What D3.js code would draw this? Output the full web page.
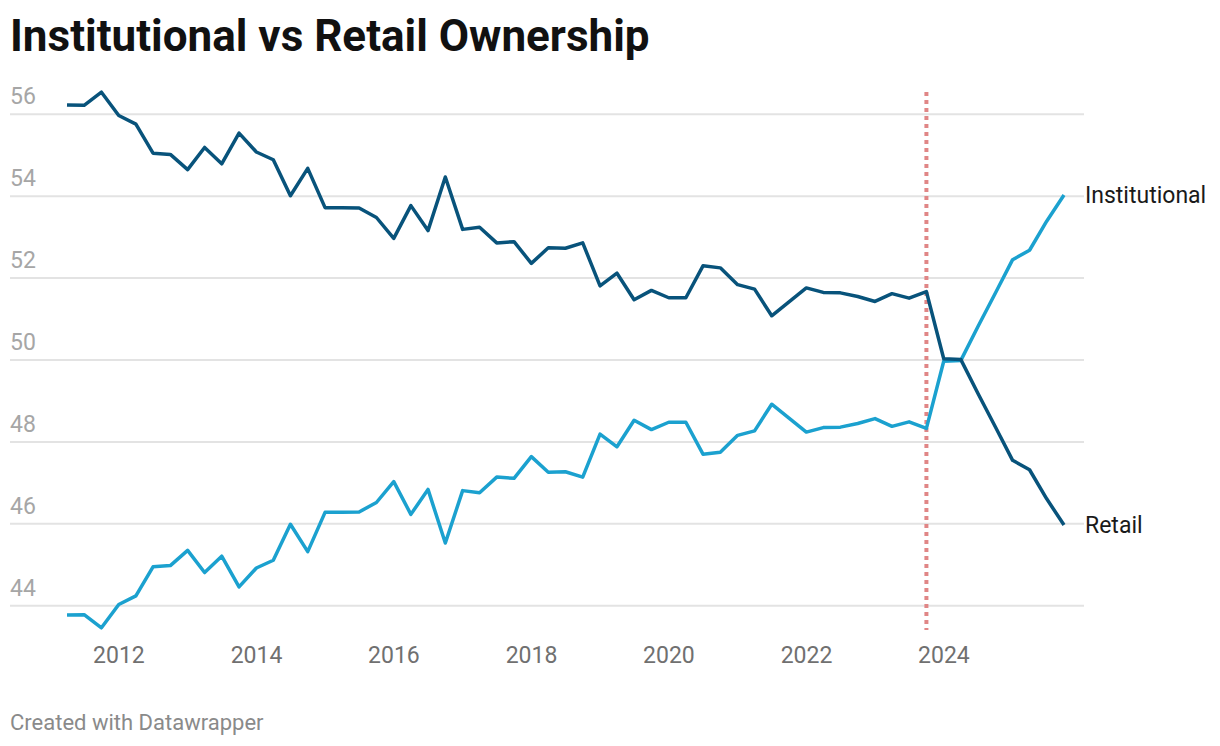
<!DOCTYPE html>
<html>
<head>
<meta charset="utf-8">
<script src="https://cdn.jsdelivr.net/npm/d3@7"></script>
<style>
  body { margin: 0; background: #fff; }
  svg { font-family: Roboto, "Noto Sans", sans-serif; display: block; }
</style>
</head>
<body>
<div id="chart"></div>
<script>
// quarter-end dates
const quarters = [
  "2011-03-31","2011-06-30","2011-09-30","2011-12-31",
  "2012-03-31","2012-06-30","2012-09-30","2012-12-31",
  "2013-03-31","2013-06-30","2013-09-30","2013-12-31",
  "2014-03-31","2014-06-30","2014-09-30","2014-12-31",
  "2015-03-31","2015-06-30","2015-09-30","2015-12-31",
  "2016-03-31","2016-06-30","2016-09-30","2016-12-31",
  "2017-03-31","2017-06-30","2017-09-30","2017-12-31",
  "2018-03-31","2018-06-30","2018-09-30","2018-12-31",
  "2019-03-31","2019-06-30","2019-09-30","2019-12-31",
  "2020-03-31","2020-06-30","2020-09-30","2020-12-31",
  "2021-03-31","2021-06-30","2021-09-30","2021-12-31",
  "2022-03-31","2022-06-30","2022-09-30","2022-12-31",
  "2023-03-31","2023-06-30","2023-09-30","2023-12-31",
  "2024-03-31","2024-06-30","2024-09-30","2024-12-31",
  "2025-03-31","2025-06-30","2025-09-30"
];

const retail = [
  56.23, 56.22, 56.54, 55.97, 55.76, 55.05, 55.02, 54.65, 55.19, 54.79,
  55.54, 55.08, 54.89, 54.01, 54.68, 53.72, 53.72, 53.71, 53.48, 52.97,
  53.77, 53.16, 54.47, 53.19, 53.24, 52.86, 52.89, 52.36, 52.74, 52.73,
  52.86, 51.81, 52.12, 51.47, 51.70, 51.52, 51.52, 52.30, 52.25, 51.84,
  51.73, 51.08, 51.42, 51.76, 51.65, 51.64, 51.55, 51.43, 51.62, 51.51,
  51.67, 50.03, 50.01, 49.18, 48.37, 47.55, 47.32, 46.61, 45.97
];

const institutional = [
  43.77, 43.78, 43.46, 44.03, 44.24, 44.95, 44.98, 45.35, 44.81, 45.21,
  44.46, 44.92, 45.11, 45.99, 45.32, 46.28, 46.28, 46.29, 46.52, 47.03,
  46.23, 46.84, 45.53, 46.81, 46.76, 47.14, 47.11, 47.64, 47.26, 47.27,
  47.14, 48.19, 47.88, 48.53, 48.30, 48.48, 48.48, 47.70, 47.75, 48.16,
  48.27, 48.92, 48.58, 48.24, 48.35, 48.36, 48.45, 48.57, 48.38, 48.49,
  48.33, 49.97, 49.99, 50.82, 51.63, 52.45, 52.68, 53.39, 54.03
];

const yTicks = [44, 46, 48, 50, 52, 54, 56];
const xTickYears = [2012, 2014, 2016, 2018, 2020, 2022, 2024];
const markerDate = "2023-09-30";

const width = 1220;
const height = 746;

const parse = d3.timeParse("%Y-%m-%d");
const dates = quarters.map(parse);

const svg = d3.select("#chart")
    .append("svg")
    .attr("width", width)
    .attr("height", height);

const x = d3.scaleTime()
    .domain([dates[0], dates[dates.length - 1]])
    .range([67, 1064]);

const y = d3.scaleLinear()
    .domain([44, 56])
    .range([605.7, 114.3]);

// title
svg.append("text")
    .attr("x", 10)
    .attr("y", 51)
    .attr("font-size", 44)
    .attr("font-weight", 700)
    .attr("fill", "#111")
    .text("Institutional vs Retail Ownership");

// grid + y labels
const yAxis = svg.append("g");
yAxis.selectAll("line")
    .data(yTicks)
    .enter()
    .append("line")
    .attr("x1", 10)
    .attr("x2", 1084)
    .attr("y1", d => y(d))
    .attr("y2", d => y(d))
    .attr("stroke", "#e3e3e3")
    .attr("stroke-width", 2);
yAxis.selectAll("text")
    .data(yTicks)
    .enter()
    .append("text")
    .attr("x", 10)
    .attr("y", d => y(d) - 10)
    .attr("font-size", 23)
    .attr("fill", "#a6a6a6")
    .text(d => d);

// x labels
svg.append("g")
    .selectAll("text")
    .data(xTickYears)
    .enter()
    .append("text")
    .attr("x", d => x(new Date(d, 0, 1)))
    .attr("y", 663)
    .attr("text-anchor", "middle")
    .attr("font-size", 23)
    .attr("fill", "#707070")
    .text(d => d);

// marker line
const mx = x(parse(markerDate));
svg.append("line")
    .attr("x1", mx)
    .attr("x2", mx)
    .attr("y1", 92)
    .attr("y2", 630)
    .attr("stroke", "#e08686")
    .attr("stroke-width", 4)
    .attr("stroke-dasharray", "4,4");

const line = d3.line()
    .x((d, i) => x(dates[i]))
    .y(d => y(d));

const series = [
    { name: "Institutional", values: institutional, color: "#1ba1cf" },
    { name: "Retail", values: retail, color: "#08537b" }
];

svg.selectAll(".series")
    .data(series)
    .enter()
    .append("path")
    .attr("class", "series")
    .attr("d", d => line(d.values))
    .attr("fill", "none")
    .attr("stroke", d => d.color)
    .attr("stroke-width", 3.5)
    .attr("stroke-linejoin", "round");

// end labels
svg.selectAll(".end-label")
    .data(series)
    .enter()
    .append("text")
    .attr("class", "end-label")
    .attr("x", 1085)
    .attr("y", d => y(d.values[d.values.length - 1]))
    .attr("dy", "0.35em")
    .attr("font-size", 23)
    .attr("fill", "#1a1a1a")
    .text(d => d.name);

// footer
svg.append("text")
    .attr("x", 10)
    .attr("y", 730)
    .attr("font-size", 22)
    .attr("fill", "#8a8a8a")
    .text("Created with Datawrapper");
</script>
</body>
</html>
